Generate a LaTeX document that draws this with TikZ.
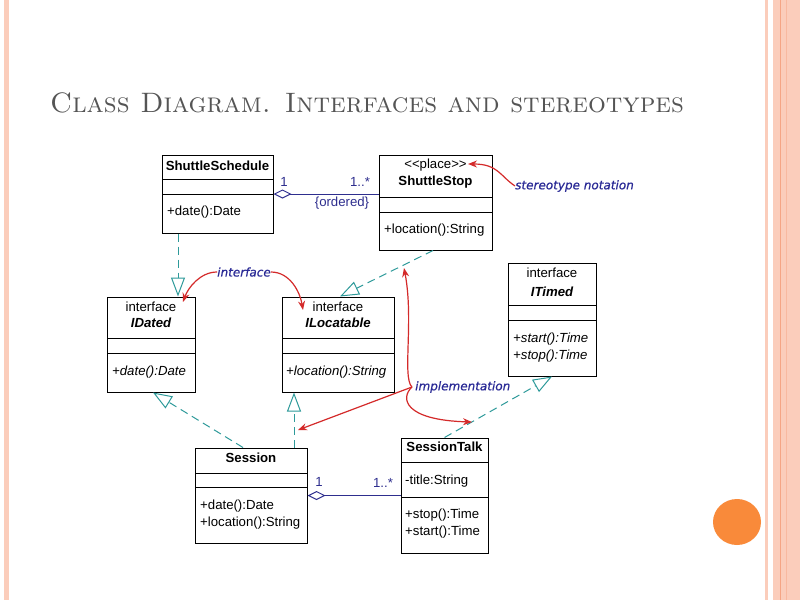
\documentclass[tikz,border=0pt]{standalone}
\usepackage{fontspec}
\newfontfamily\arialf{Liberation Sans}
\newfontfamily\annotf[ItalicFeatures={FakeBold=0.6}]{DejaVu Sans}
\usetikzlibrary{arrows.meta}
\definecolor{navy}{HTML}{2E2E8E}
\definecolor{annblue}{HTML}{2A2A96}
\definecolor{redc}{HTML}{D42A2A}
\definecolor{tealc}{HTML}{2E9A9A}
\definecolor{stripe}{HTML}{FBCDBB}
\definecolor{stripedark}{HTML}{F5A585}
\definecolor{orangec}{HTML}{F98A3A}
\definecolor{titlegray}{HTML}{555555}
\tikzset{
  classbox/.style={draw=black, line width=1pt, inner sep=0pt, fill=white},
  divider/.style={draw=black, line width=1pt},
  txt/.style={font=\arialf\fontsize{13.2}{15}\selectfont, inner sep=0pt},
  boldtxt/.style={txt, font=\arialf\bfseries\fontsize{13.2}{15}\selectfont},
  ifname/.style={txt, font=\arialf\bfseries\itshape\fontsize{13.2}{15}\selectfont},
  optxt/.style={txt, anchor=west},
  ifop/.style={optxt, font=\arialf\itshape\fontsize{13.2}{15}\selectfont},
  multlabel/.style={txt, text=navy},
  annot/.style={font=\annotf\itshape\fontsize{12}{14}\selectfont, text=annblue, inner sep=0pt},
  aggr/.style={draw=navy, line width=1pt, {Diamond[open, length=18pt, width=9pt, fill=white]}-},
  realize/.style={draw=tealc, line width=1pt, dash pattern=on 8pt off 5pt, -{Triangle[open, length=19pt, width=14pt, fill=white]}},
  note/.style={draw=redc, line width=1.2pt, -{Stealth[length=9pt, width=7pt]}},
}
\begin{document}
\begin{tikzpicture}[x=1pt,y=-1pt]
\useasboundingbox (0,0) rectangle (800,600);
\fill[white] (0,0) rectangle (800,600);
% slide decoration
\fill[stripe] (4,0) rectangle (9,600);
\fill[stripe] (765,0) rectangle (768,600);
\fill[stripe] (773,0) rectangle (800,600);
\draw[stripedark, line width=0.8pt] (780,0) -- (780,600);
\draw[stripedark!50!stripe, line width=0.6pt] (786,0) -- (786,600);
\fill[orangec] (737,522) ellipse [x radius=24, y radius=23];
% title
\node[anchor=base west, inner sep=0pt, text=titlegray, font=\fontsize{28.1}{30}\selectfont\scshape] (title) at (50,112) {Class Diagram. Interfaces and stereotypes};

% classes
\node[classbox, minimum width=111pt, minimum height=78pt] (sched) at (217.5,194) {};
\draw[divider] (162,179) -- (273,179);
\draw[divider] (162,194) -- (273,194);
\node[boldtxt] (schedname) at (217.5,166) {ShuttleSchedule};
\node[optxt] (schedop) at (167,212) {+date():Date};

\node[classbox, minimum width=113pt, minimum height=95pt] (stop) at (435.5,202.5) {};
\draw[divider] (379,197) -- (492,197);
\draw[divider] (379,212) -- (492,212);
\node[txt] (stopster) at (435.5,165) {<{}<place>{}>};
\node[boldtxt] (stopname) at (435.5,182) {ShuttleStop};
\node[optxt] (stopop) at (384,230) {+location():String};

\node[classbox, minimum width=88pt, minimum height=95pt] (dated) at (151,344.5) {};
\draw[divider] (107,338) -- (195,338);
\draw[divider] (107,353) -- (195,353);
\node[txt] (datedst) at (151,307) {interface};
\node[ifname] (datedname) at (151,323) {IDated};
\node[ifop] (datedop) at (112,372) {+date():Date};

\node[classbox, minimum width=112pt, minimum height=95pt] (loc) at (338,344.5) {};
\draw[divider] (282,338) -- (394,338);
\draw[divider] (282,353) -- (394,353);
\node[txt] (locst) at (338,307) {interface};
\node[ifname] (locname) at (338,323) {ILocatable};
\node[ifop] (locop) at (286,372) {+location():String};

\node[classbox, minimum width=88pt, minimum height=113pt] (timed) at (552,319.5) {};
\draw[divider] (508,305) -- (596,305);
\draw[divider] (508,320) -- (596,320);
\node[txt] (timedst) at (552,273) {interface};
\node[ifname] (timedname) at (552,292) {ITimed};
\node[ifop] (timedop1) at (513,339) {+start():Time};
\node[ifop] (timedop2) at (513,356) {+stop():Time};

\node[classbox, minimum width=112pt, minimum height=95pt] (session) at (251,495.5) {};
\draw[divider] (195,473) -- (307,473);
\draw[divider] (195,487) -- (307,487);
\node[boldtxt] (sessname) at (251,458) {Session};
\node[optxt] (sessop1) at (200,506) {+date():Date};
\node[optxt] (sessop2) at (200,523) {+location():String};

\node[classbox, minimum width=87pt, minimum height=115pt] (talk) at (444.5,495.5) {};
\draw[divider] (401,462) -- (488,462);
\draw[divider] (401,497) -- (488,497);
\node[boldtxt] (talkname) at (444.5,447) {SessionTalk};
\node[optxt] (talkattr) at (405,481) {-title:String};
\node[optxt] (talkop1) at (405,515) {+stop():Time};
\node[optxt] (talkop2) at (405,532) {+start():Time};

% aggregations
\draw[aggr] (sched.east) -- (stop.west |- sched.east);
\node[multlabel] (m1) at (284,182) {1};
\node[multlabel] (m2) at (360,182) {1..*};
\node[multlabel] (ord) at (342,203) {\{ordered\}};
\draw[aggr] (session.east) -- (talk.west |- session.east);
\node[multlabel] (m3) at (319,482) {1};
\node[multlabel] (m4) at (383,483) {1..*};

% realizations
\draw[realize] ([xshift=-39.5pt]sched.south) -- ([xshift=27pt]dated.north);
\draw[realize] ([xshift=-2.5pt]stop.south) -- ([xshift=2pt]loc.north);
\draw[realize] ([xshift=-8pt]session.north) -- ([xshift=2pt]dated.south);
\draw[realize] ([xshift=43pt]session.north) -- ([xshift=-44pt]loc.south);
\draw[realize] (talk.north) -- (timed.south);

% annotations
\node[annot, anchor=west] (stereo) at (515,186) {stereotype notation};
\coordinate (placetip) at (468,164);
\draw[note] (stereo.west) .. controls (500,176) and (498,164) .. (placetip);

\node[annot] (iface) at (244,272) {interface};
\coordinate (datedtip) at (183,302);
\coordinate (loctip) at (303,310);
\draw[note] (iface.west) .. controls (200,272) and (188,288) .. (datedtip);
\draw[note] (iface.east) .. controls (290,272) and (300,292) .. (loctip);

\node[annot, anchor=west] (impl) at (415,387) {implementation};
\coordinate (brace) at (412,387);
\coordinate (stoptip) at (404,268);
\coordinate (sesstip) at (298,430);
\coordinate (talktip) at (472,422);
\draw[note] (brace) .. controls (402,378) and (414,320) .. (stoptip);
\draw[note] (brace) -- (sesstip);
\draw[note] (brace) .. controls (400,398) and (404,420) .. (talktip);
\end{tikzpicture}
\end{document}
